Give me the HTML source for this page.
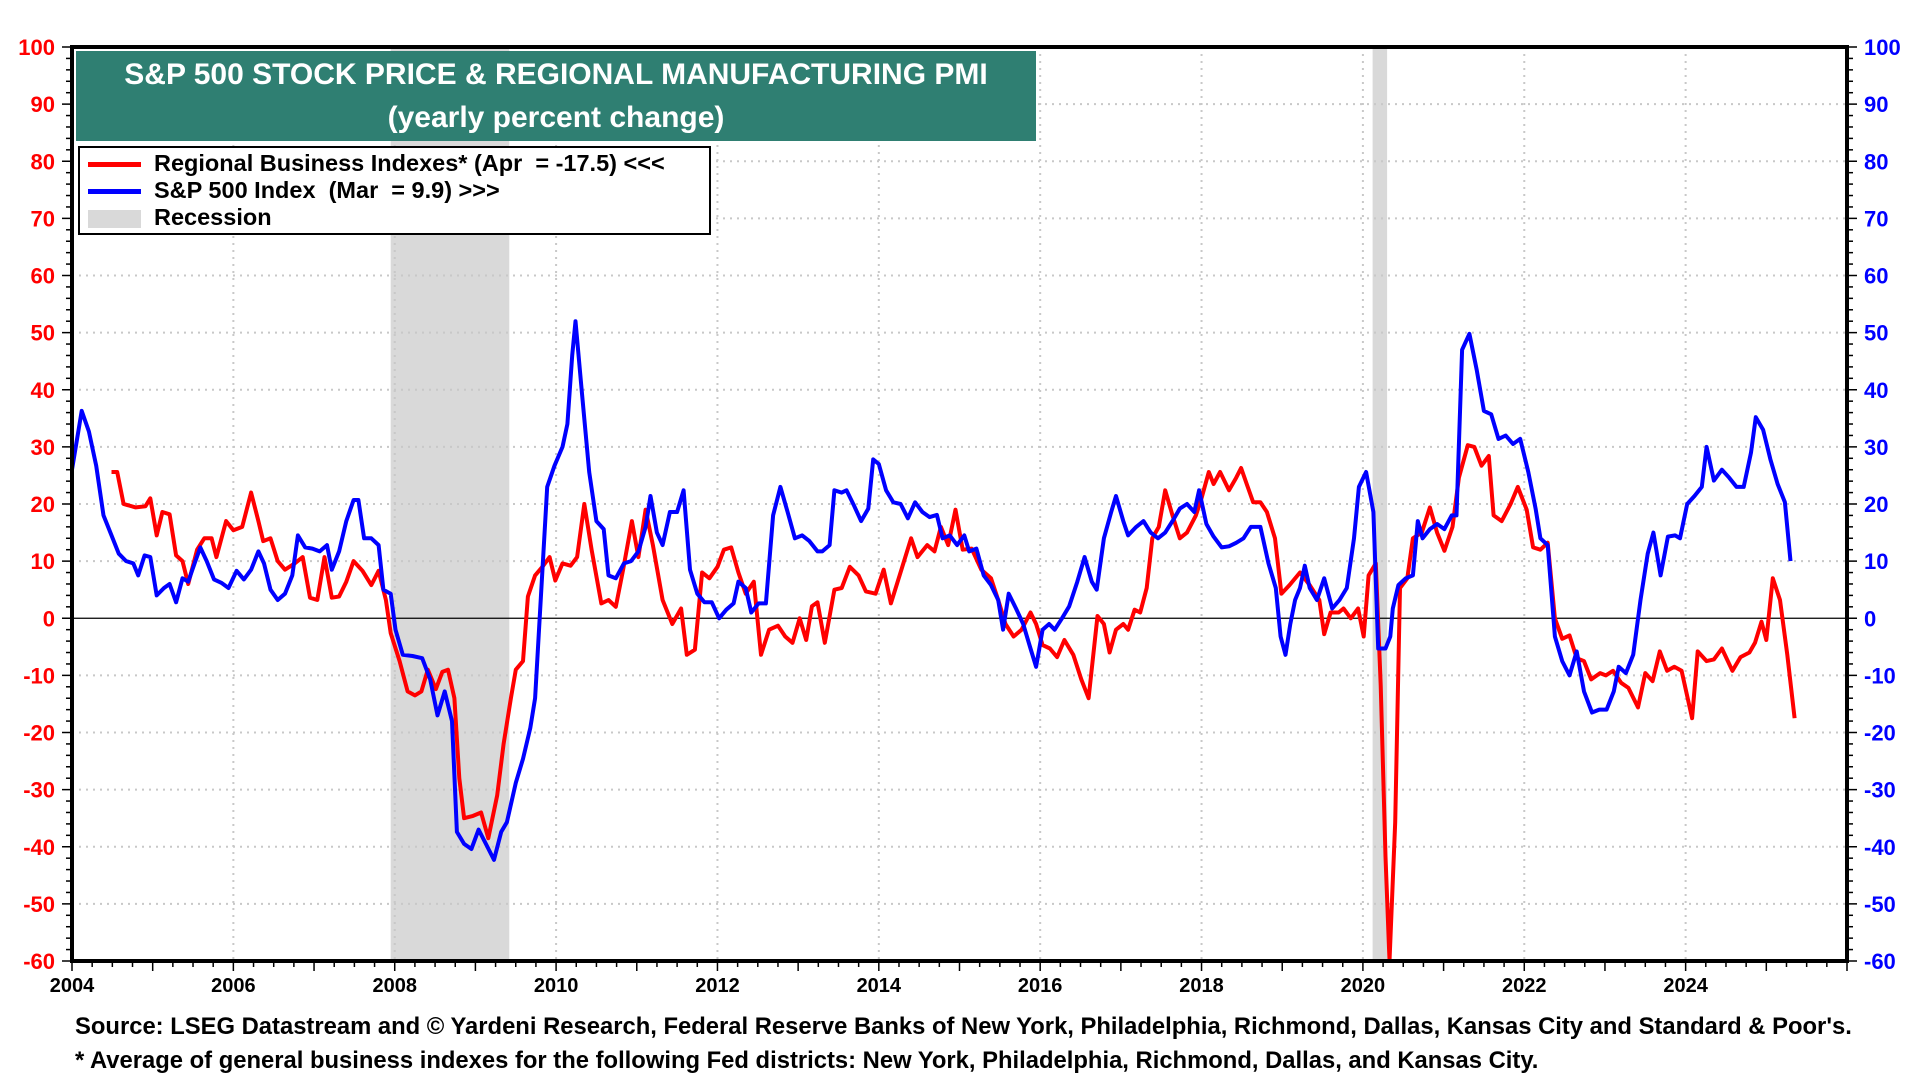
<!DOCTYPE html>
<html><head><meta charset="utf-8"><style>
body{margin:0;background:#fff;width:1920px;height:1080px;overflow:hidden;font-family:"Liberation Sans",Arial,sans-serif}
</style></head><body>
<svg id="chart" width="1920" height="1080" xmlns="http://www.w3.org/2000/svg" font-family="Liberation Sans, Arial, sans-serif"></svg>
<script>
const yTicks=[100,90,80,70,60,50,40,30,20,10,0,-10,-20,-30,-40,-50,-60];
const xTickYears=[2004,2006,2008,2010,2012,2014,2016,2018,2020,2022,2024];
const recessionStarts=[2007.95,2020.12];
const recessionEnds=[2009.42,2020.3];
const redT=[0.49,0.56,0.64,0.79,0.91,0.97,1.05,1.12,1.21,1.29,1.37,1.44,1.55,1.64,1.73,1.79,1.91,2.00,2.11,2.22,2.31,2.37,2.46,2.55,2.64,2.76,2.86,2.95,3.04,3.13,3.22,3.31,3.40,3.49,3.60,3.71,3.80,3.89,3.95,4.06,4.16,4.25,4.33,4.41,4.51,4.59,4.66,4.74,4.80,4.86,4.97,5.07,5.16,5.27,5.35,5.44,5.50,5.59,5.65,5.74,5.83,5.92,5.99,6.08,6.18,6.26,6.35,6.44,6.56,6.65,6.74,6.83,6.94,7.02,7.11,7.20,7.32,7.44,7.55,7.62,7.72,7.81,7.90,8.00,8.08,8.17,8.26,8.35,8.45,8.54,8.64,8.75,8.84,8.93,9.02,9.10,9.17,9.24,9.33,9.45,9.54,9.64,9.75,9.84,9.96,10.06,10.15,10.28,10.40,10.48,10.60,10.69,10.77,10.86,10.95,11.04,11.15,11.27,11.39,11.48,11.57,11.67,11.77,11.88,11.95,12.03,12.12,12.21,12.30,12.41,12.51,12.60,12.71,12.79,12.86,12.94,13.03,13.09,13.17,13.24,13.32,13.39,13.47,13.55,13.64,13.73,13.82,13.93,14.00,14.09,14.15,14.23,14.34,14.43,14.49,14.56,14.64,14.73,14.81,14.91,14.99,15.09,15.22,15.34,15.46,15.52,15.60,15.70,15.76,15.85,15.94,16.01,16.07,16.16,16.22,16.28,16.33,16.40,16.46,16.55,16.62,16.73,16.83,16.92,17.01,17.11,17.19,17.30,17.38,17.47,17.56,17.62,17.72,17.83,17.92,18.03,18.11,18.20,18.29,18.38,18.47,18.56,18.65,18.74,18.83,18.94,19.01,19.10,19.20,19.29,19.41,19.50,19.59,19.68,19.77,19.86,19.95,20.08,20.15,20.26,20.35,20.45,20.58,20.68,20.79,20.86,20.94,21.00,21.08,21.17,21.26,21.35];
const redV=[25.6,25.6,20,19.4,19.6,21,14.5,18.6,18.2,11,10,6,12,14,14,10.7,17,15.4,16,22,17,13.5,14,10,8.5,9.6,10.7,3.6,3.2,10.7,3.6,3.8,6.4,10,8.3,5.8,8.3,3.2,-2.6,-7.5,-12.8,-13.5,-12.8,-9,-12.4,-9.4,-9,-14,-28,-35,-34.6,-34,-38.5,-31,-22,-14,-9,-7.5,3.8,7.5,9,10.7,6.6,9.6,9.2,10.7,20,12,2.6,3.2,2,8.5,17,10.7,19,12.8,3.2,-1,1.7,-6.4,-5.5,8,7,9,12,12.4,8,4.3,6.4,-6.4,-2,-1.3,-3.2,-4.3,0,-3.8,2.1,2.8,-4.3,5,5.3,9,7.5,4.7,4.3,8.5,2.6,8.5,14,10.7,12.8,11.7,16,12.8,19,12,12.2,8.5,7,3.2,-1,-3.2,-2,1,-1,-4.7,-5.3,-6.8,-3.8,-6.4,-10.7,-14,0.4,-1,-6,-2,-1,-2,1.5,1,5.3,14,16,22.4,18,14,15,18,21,25.6,23.5,25.6,22.4,24.6,26.3,23.5,20.3,20.3,18.6,14,4.3,5.8,8,5.8,3.2,-2.8,1,1,1.7,0,1.7,-3.2,7.5,9.6,-11.7,-41.7,-60,-35.7,5.3,7,14,15,19.4,15,11.8,16,24.6,30.3,30,26.7,28.4,18,17,20,23,19,12.4,12,13.2,0,-3.6,-3,-7,-7.5,-10.7,-9.6,-10,-9.2,-11.3,-12.2,-15.6,-9.6,-11,-5.8,-9.2,-8.5,-9.2,-17.5,-5.8,-7.5,-7.2,-5.3,-9.2,-6.8,-6,-4.3,-0.6,-3.8,7,3.2,-6.4,-17.5];
const blueT=[0,0.12,0.21,0.30,0.39,0.49,0.58,0.67,0.76,0.82,0.90,0.97,1.05,1.14,1.21,1.29,1.37,1.44,1.52,1.59,1.67,1.76,1.85,1.94,2.04,2.13,2.22,2.31,2.38,2.46,2.55,2.64,2.73,2.80,2.89,2.98,3.07,3.16,3.22,3.31,3.40,3.49,3.55,3.62,3.71,3.80,3.86,3.95,4.01,4.10,4.22,4.34,4.44,4.53,4.62,4.71,4.77,4.86,4.95,5.04,5.13,5.23,5.32,5.39,5.50,5.59,5.68,5.74,5.80,5.89,5.98,6.08,6.14,6.20,6.24,6.32,6.41,6.50,6.59,6.65,6.74,6.84,6.93,7.02,7.11,7.17,7.25,7.32,7.41,7.50,7.58,7.66,7.75,7.84,7.93,8.02,8.11,8.20,8.26,8.35,8.42,8.51,8.60,8.69,8.78,8.87,8.96,9.05,9.14,9.24,9.30,9.39,9.45,9.54,9.60,9.69,9.78,9.87,9.93,10.00,10.09,10.18,10.27,10.36,10.45,10.54,10.63,10.72,10.79,10.88,10.97,11.06,11.12,11.21,11.30,11.39,11.48,11.54,11.61,11.70,11.79,11.88,11.95,12.03,12.11,12.18,12.27,12.36,12.46,12.55,12.64,12.70,12.79,12.88,12.94,13.03,13.09,13.19,13.28,13.37,13.46,13.55,13.64,13.73,13.82,13.91,13.97,14.06,14.15,14.25,14.34,14.43,14.52,14.61,14.73,14.83,14.92,14.98,15.04,15.10,15.16,15.22,15.28,15.34,15.43,15.52,15.62,15.71,15.80,15.89,15.95,16.04,16.13,16.19,16.28,16.34,16.37,16.44,16.53,16.62,16.68,16.74,16.83,16.92,17.01,17.10,17.16,17.23,17.32,17.41,17.50,17.59,17.68,17.77,17.86,17.95,18.05,18.14,18.20,18.29,18.38,18.47,18.56,18.65,18.74,18.84,18.93,19.02,19.11,19.17,19.26,19.35,19.44,19.53,19.60,19.69,19.78,19.87,19.93,20.02,20.11,20.20,20.26,20.35,20.45,20.54,20.63,20.72,20.81,20.87,20.96,21.05,21.14,21.23,21.30];
const blueV=[26,36.3,32.7,26.7,18,14.5,11.3,10,9.6,7.5,11,10.7,4,5.3,6,2.8,7,6.4,9.6,12.4,10,6.8,6.2,5.3,8.3,6.8,8.5,11.7,9.6,5,3.2,4.3,7.5,14.5,12.4,12.2,11.7,12.8,8.5,11.7,17,20.7,20.7,14,14,12.8,5,4.3,-2,-6.4,-6.6,-7,-10.7,-17,-12.8,-18,-37.4,-39.5,-40.4,-37,-39.5,-42.3,-37.4,-35.7,-28.8,-24.6,-19.2,-14,1,23,26.7,30,34,46,52,39.5,25.6,17,15.6,7.5,7,9.6,10,11.7,16,21.4,15,12.8,18.6,18.6,22.4,8.5,4.3,2.8,2.8,0,1.5,2.6,6.4,5.3,1,2.6,2.6,18,23,18.6,14,14.5,13.5,11.7,11.7,12.8,22.4,22,22.4,19.8,17,19.2,27.8,27,22.4,20.3,20,17.5,20.3,18.6,17.7,18.1,14,14.5,12.8,14.5,11.7,12.2,7.5,5.8,3.2,-2,4.3,1.7,-1,-5.3,-8.5,-2,-1,-2,0,2.1,6.4,10.7,6.4,5,14,18.6,21.4,17,14.5,16,17,15,14,15,17,19.2,20,18.6,22.4,16.5,14.3,12.4,12.6,13.2,14,16,16,9.6,5.3,-3.2,-6.4,-1,3.2,5.3,9.2,5.3,3.2,7,1.7,3.2,5.3,14,23,25.6,18.6,-5.3,-5.3,-3.2,1.7,5.8,7,7.5,17,14,15.6,16.5,15.6,18,18,47,49.8,43.5,36.3,35.7,31.4,32,30.5,31.4,25.6,19.2,14,12.8,-3.2,-7.5,-10,-5.8,-12.8,-16.5,-16,-16,-12.8,-8.5,-9.6,-6.4,3.2,11.3,15,7.5,14.3,14.5,14,20,21.4,23,30,24.1,26,24.6,23,23,29,35.2,33,27.8,23.5,20.3,10];

const L=72,R=1847,T=47,B=961,X0=2004,X1=2026,Y0=-60,Y1=100;
const sx=y=>L+(y-X0)/(X1-X0)*(R-L);
const sy=v=>B-(v-Y0)/(Y1-Y0)*(B-T);
const svg=document.getElementById('chart');
const NS='http://www.w3.org/2000/svg';
function mk(tag,attrs,parent){const e=document.createElementNS(NS,tag);for(const k in attrs)e.setAttribute(k,attrs[k]);(parent||svg).appendChild(e);return e;}

recessionStarts.forEach((s,i)=>{
  const r=mk('rect',{x:sx(s),y:T,width:sx(recessionEnds[i])-sx(s),height:B-T,fill:'#d9d9d9'});
  
  
});
yTicks.forEach(v=>{
  if(v===Y0||v===Y1)return;
  const g=mk('line',{x1:L,x2:R,y1:sy(v),y2:sy(v),stroke:v===0?'#000':'#c8c8c8','stroke-width':v===0?1.2:2,'stroke-dasharray':v===0?'':'2,5'});
  
  
});
xTickYears.forEach(y=>{
  if(y===X0)return;
  const g=mk('line',{x1:sx(y),x2:sx(y),y1:T,y2:B,stroke:'#c8c8c8','stroke-width':2,'stroke-dasharray':'2,5'});
  
  
});
function series(ts,vs,color,name){
  const d=ts.map((t,i)=>(i?'L':'M')+sx(X0+t).toFixed(1)+','+sy(Math.max(vs[i],Y0)).toFixed(1)).join('');
  const p=mk('path',{d:d,fill:'none',stroke:color,'stroke-width':4,'stroke-linejoin':'round'});
  
  
}
series(redT,redV,'#ff0000','regional-business-line');
series(blueT,blueV,'#0000ff','sp500-line');
const fr=mk('rect',{x:L,y:T,width:R-L,height:B-T,fill:'none',stroke:'#000','stroke-width':4});


for(let v=Y0;v<=Y1;v+=2){
  const big=v%10===0;
  mk('line',{x1:L-(big?10:6),x2:L,y1:sy(v),y2:sy(v),stroke:'#000','stroke-width':1.5});
  mk('line',{x1:R,x2:R+(big?10:6),y1:sy(v),y2:sy(v),stroke:'#000','stroke-width':1.5});
}
yTicks.forEach(v=>{
  const a=mk('text',{x:55,y:sy(v)+8,'text-anchor':'end','font-size':22,'font-weight':'bold',fill:'#ff0000'});a.textContent=v;
  
  
  const b=mk('text',{x:1864,y:sy(v)+8,'text-anchor':'start','font-size':22,'font-weight':'bold',fill:'#0000ff'});b.textContent=v;
  
  
});
for(let q=X0*4;q<=X1*4;q++){
  const y=q/4;const big=q%4===0;
  mk('line',{x1:sx(y),x2:sx(y),y1:B,y2:B+(big?10:6),stroke:'#000','stroke-width':1.5});
}
xTickYears.forEach(y=>{
  const t=mk('text',{x:sx(y),y:992,'text-anchor':'middle','font-size':20,'font-weight':'bold',fill:'#000'});t.textContent=y;
  
  
});
</script>
<div style="position:absolute;left:76px;top:51px;width:960px;height:90px;background:#2f7f72;color:#fff;font-weight:bold;font-size:30px;text-align:center;line-height:43px;padding-top:2px;box-sizing:border-box">S&amp;P 500 STOCK PRICE &amp; REGIONAL MANUFACTURING PMI<br>(yearly percent change)</div>
<div style="position:absolute;left:78px;top:146px;width:633px;height:89px;background:#fff;border:2.5px solid #000;box-sizing:border-box;font-weight:bold;font-size:23.5px;line-height:27px;padding-top:2px;white-space:nowrap">
 <div><span style="display:inline-block;width:53px;height:5px;background:#f00;margin:0 13px 0 8px;vertical-align:middle"></span>Regional Business Indexes* (Apr&nbsp; = -17.5) &lt;&lt;&lt;</div>
 <div><span style="display:inline-block;width:53px;height:5px;background:#00f;margin:0 13px 0 8px;vertical-align:middle"></span>S&amp;P 500 Index&nbsp; (Mar&nbsp; = 9.9) &gt;&gt;&gt;</div>
 <div><span style="display:inline-block;width:53px;height:18px;background:#d9d9d9;margin:0 13px 0 8px;vertical-align:middle"></span>Recession</div>
</div>
<div style="position:absolute;left:75px;top:1010px;font-weight:bold;font-size:23.8px;line-height:34px;white-space:nowrap">Source: LSEG Datastream and © Yardeni Research, Federal Reserve Banks of New York, Philadelphia, Richmond, Dallas, Kansas City and Standard &amp; Poor's.<br>* Average of general business indexes for the following Fed districts: New York, Philadelphia, Richmond, Dallas, and Kansas City.</div>
</body></html>
